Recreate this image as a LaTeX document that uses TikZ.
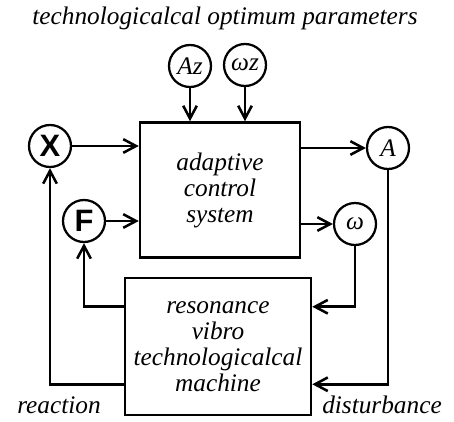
\documentclass[tikz,border=0pt]{standalone}
\usepackage{fontspec}
\setmainfont{Liberation Serif}
\setsansfont{Liberation Sans}
\usetikzlibrary{arrows.meta,positioning}

\begin{document}
\begin{tikzpicture}[font=\itshape\fontsize{18}{18.5}\selectfont,
  blk/.style={draw, line width=1.8pt, align=center, inner sep=0pt},
  sig/.style={draw, circle, line width=1.6pt, minimum size=1.05cm, inner sep=0pt},
  let/.style={sig, font=\sffamily\bfseries\fontsize{22}{22}\selectfont},
  arr/.style={-{Straight Barb[length=3.2mm,width=3.4mm,line width=1.8pt]}, line width=1.8pt}
]
  \useasboundingbox (0,0) rectangle (11.35,10.525);
  \node (title) at (5.625,10.075) {technologicalcal optimum parameters};
  \node[sig] (az) at (4.75,8.875) {Az};
  \node[sig] (wz) at (6.125,8.9)  {ωz};
  \node[blk, minimum width=4cm, minimum height=3.375cm] (ctrl) at (5.5,5.775)
        {adaptive\\control\\system};
  \node[let] (x) at (1.25,6.875) {X};
  \node[let] (f) at (2.1,5.0)    {F};
  \node[sig] (a) at (9.7,6.825)  {A};
  \node[sig] (w) at (8.875,4.925) {ω};
  \node[blk, minimum width=4.65cm, minimum height=3.425cm] (mach) at (5.45,1.8625)
        {resonance\\vibro\\technologicalcal\\machine};
  \node (react) at (1.475,0.4) {reaction};
  \node (dist)  at (9.55,0.4)  {disturbance};
  % inputs of the control system
  \foreach \s in {az,wz}
    \draw[arr] (\s.south) -- (\s.south |- ctrl.north);
  \foreach \s in {x,f}
    \draw[arr] (\s.east) -- (\s -| ctrl.west);
  \draw[arr] (ctrl.east |- a) -- (a.west);
  \draw[arr] (ctrl.east |- w) -- (w.west);
  % feedback through the machine
  \draw[arr] (w.south) |- ([yshift=-0.75cm]mach.north east);
  \draw[arr] (a.south) |- ([yshift=0.8cm]mach.south east);
  \draw[arr] ([yshift=-0.75cm]mach.north west) -| (f.south);
  \draw[arr] ([yshift=0.8cm]mach.south west) -| (x.south);
\end{tikzpicture}
\end{document}
